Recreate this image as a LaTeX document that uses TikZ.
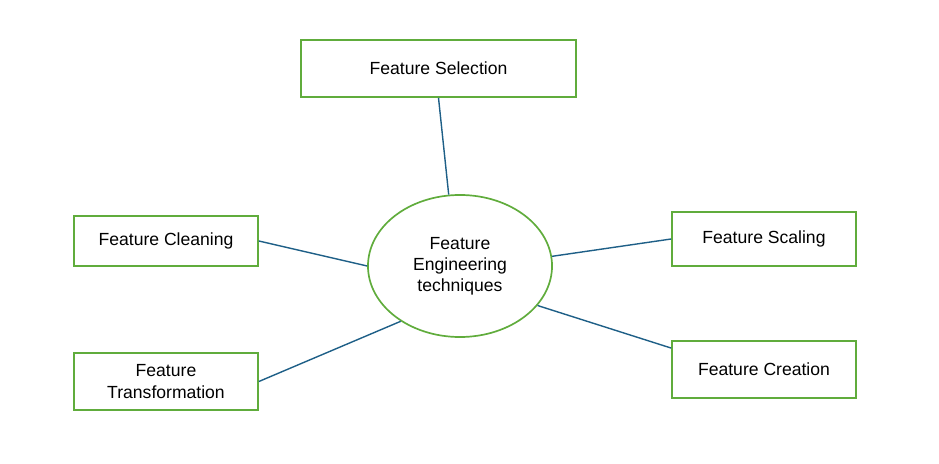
\documentclass[tikz,border=0pt]{standalone}
\usepackage{fontspec}
\setmainfont{Liberation Sans}
\usetikzlibrary{shapes.geometric}
\definecolor{boxgreen}{RGB}{96,172,60}
\definecolor{linkblue}{RGB}{30,95,135}
\begin{document}
\begin{tikzpicture}[x=0.025cm,y=-0.025cm,
    feat/.style={draw=boxgreen,line width=1.2pt,minimum width=4.6cm,minimum height=1.3cm,
      align=center,font=\fontsize{12.5}{15}\selectfont,inner sep=2pt},
    link/.style={draw=linkblue,line width=1pt}]
    \useasboundingbox (0,0) rectangle (939,464);

    \node[draw=boxgreen,line width=1.2pt,ellipse,minimum width=4.6cm,minimum height=3.55cm,
      align=center,font=\fontsize{12.5}{15}\selectfont,inner sep=0pt] (core) at (460,266)
      {Feature\\Engineering\\techniques};

    \node[feat,minimum width=6.875cm,minimum height=1.425cm] (sel) at (438.5,68.5) {Feature Selection};
    \node[feat,minimum height=1.25cm] (clean) at (166,241) {Feature Cleaning};
    \node[feat,minimum height=1.425cm] (trans) at (166,381.5) {Feature\\Transformation};
    \node[feat,minimum height=1.35cm] (scale) at (764,239) {Feature Scaling};
    \node[feat,minimum height=1.425cm] (create) at (764,369.5) {Feature Creation};

    % spokes
    \draw[link] (sel.south) -- (core.99);
    \draw[link] (clean.east) -- (core.180);
    \draw[link] (trans.east) -- (core.223);
    \draw[link] (scale.west) -- (core.6);
    \draw[link] (create.west) ++(0,12) coordinate (cw) ;
    \draw[link] (create.167) -- (core.-27);
\end{tikzpicture}
\end{document}
